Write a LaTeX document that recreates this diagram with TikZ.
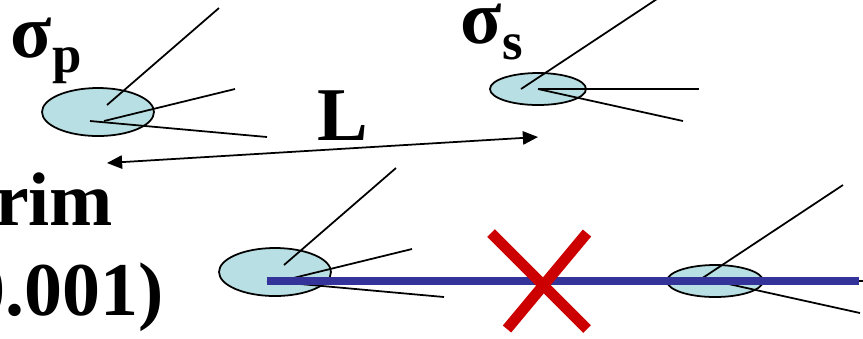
\documentclass[tikz,border=0pt]{standalone}
\usepackage{fontspec}
\setmainfont{Liberation Serif}
\usepackage{tikz}
\usetikzlibrary{arrows.meta}
\definecolor{spotfill}{RGB}{184,223,227}
\definecolor{beamblue}{RGB}{51,51,153}
\definecolor{crossred}{RGB}{204,0,0}

\begin{document}
\begin{tikzpicture}[x=0.01cm,y=-0.01cm,line width=0.5pt,
  spot/.style={draw,fill=spotfill},
  lbl/.style={font=\fontsize{21.6}{26}\selectfont\bfseries,inner sep=0pt}]
\useasboundingbox (0,0) rectangle (863,338);
\clip (0,0) rectangle (863,338);
% large spots with their rays
\foreach \cx/\cy in {98/112, 275/272} {
  \draw[spot] (\cx,\cy) ellipse [x radius=56, y radius=24];
  \draw (\cx-8,\cy+9) -- (\cx+169,\cy+25);
  \draw (\cx+6,\cy+9) -- (\cx+137,\cy-23);
  \draw (\cx+9,\cy-7) -- (\cx+121,\cy-104);
}
% small spots with their rays
\foreach \cx/\cy in {538/89, 715/281} {
  \draw[spot] (\cx,\cy) ellipse [x radius=48, y radius=16];
  \draw (\cx-17,\cy) -- (\cx+128,\cy-96);
  \draw (\cx,\cy) -- (\cx+161,\cy);
  \draw (\cx,\cy) -- (\cx+145,\cy+32);
}
\node[lbl,anchor=base west,text height=10.5pt] (sigp) at (10,57) {σ\raisebox{-4.5pt}{\fontsize{15}{15}\selectfont p}};
\node[lbl,anchor=base west,text height=10.5pt] (sigs) at (460,43) {σ\raisebox{-4.8pt}{\fontsize{15}{15}\selectfont s}};
\node[lbl,anchor=base west] (len) at (317,140) {L};
\node[lbl,anchor=base east] (prim) at (114,225) {rim};
\node[lbl,anchor=base east] (pval) at (165,315) {0.001)};
\coordinate (pend) at (107,163);
\coordinate (send) at (538,137);
\draw[{Triangle[length=4.3pt,width=3.8pt]}-{Triangle[length=4.3pt,width=3.8pt]}] (pend) -- (send);
% blocked path
\draw[beamblue,line width=2.2pt] (267,281) -- (859,281);
\draw[crossred,line width=3.1pt] (491,233) -- (587,329) (587,233) -- (507,329);
\end{tikzpicture}
\end{document}
